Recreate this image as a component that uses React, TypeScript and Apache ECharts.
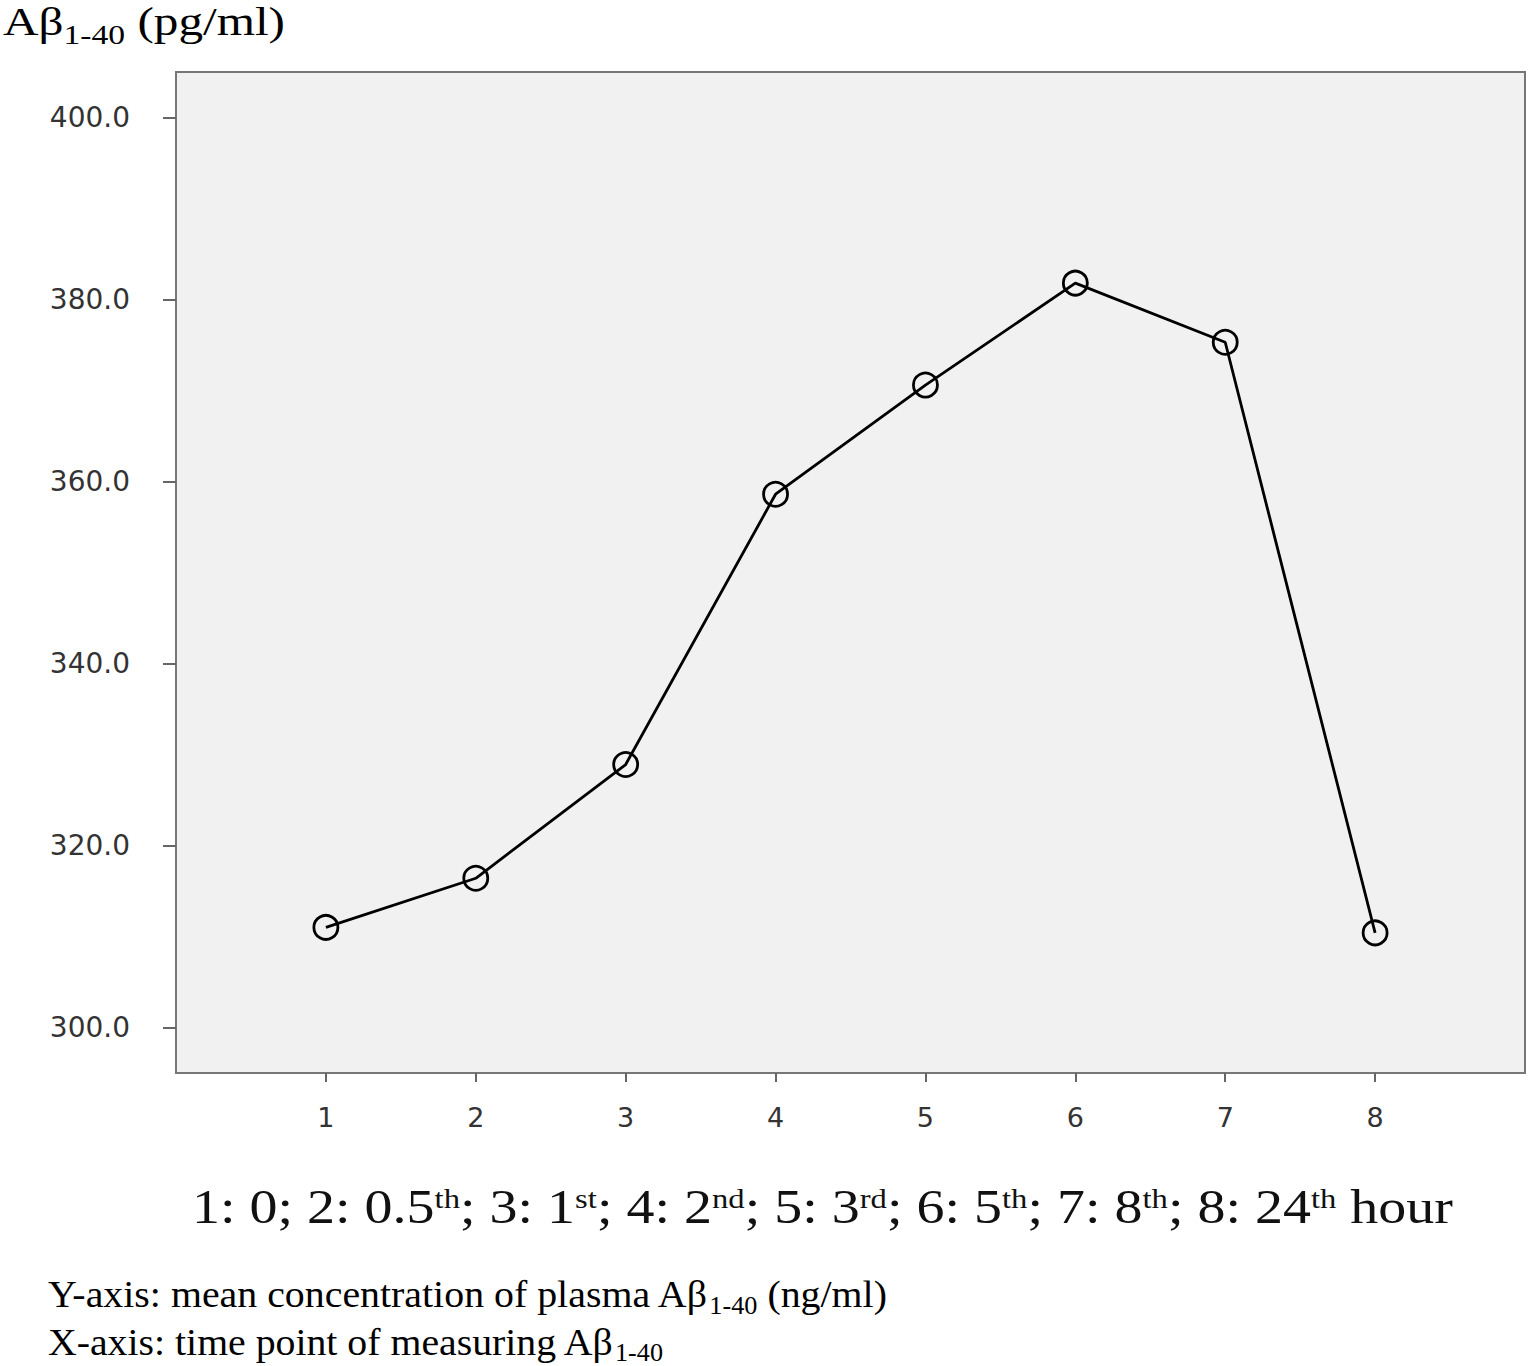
import React, { useEffect, useRef } from "react";
import * as echarts from "echarts";

const xTickLabels = ["1", "2", "3", "4", "5", "6", "7", "8"];
const xPositions = [1, 2, 3, 4, 5, 6, 7, 8];
const abetaMean = [311.0, 316.4, 328.9, 358.6, 370.6, 381.8, 375.3, 310.4];
const yTicks = [300, 320, 340, 360, 380, 400];

const SERIF_NAME = "Liberation Serif";
const SERIF = "'Liberation Serif', 'Times New Roman', serif";

type Seg = { t: string; size: number; dy: number };

let measureCtx: CanvasRenderingContext2D | null = null;
function measure(text: string, size: number): number {
  if (!measureCtx) {
    const c = document.createElement("canvas");
    measureCtx = c.getContext("2d");
  }
  if (!measureCtx) return text.length * size * 0.5;
  measureCtx.font = `${size}px '${SERIF_NAME}', serif`;
  return measureCtx.measureText(text).width;
}

// Lays out a line of text pieces (with sub/superscripts) between x0 and x1, at a given baseline.
function textLine(x0: number, x1: number, baseline: number, segs: Seg[], color: string) {
  const widths = segs.map((s) => measure(s.t, s.size));
  const total = widths.reduce((a, b) => a + b, 0);
  const sx = (x1 - x0) / total;
  let cx = x0;
  return segs.map((s, i) => {
    const el = {
      type: "text",
      x: cx,
      y: baseline + s.dy - 0.3375 * s.size,
      scaleX: sx,
      silent: true,
      style: {
        text: s.t,
        fontFamily: SERIF,
        fontSize: s.size,
        fill: color,
        align: "left",
        verticalAlign: "middle",
      },
    };
    cx += widths[i] * sx;
    return el;
  });
}

export default function App() {
  const ref = useRef<HTMLDivElement>(null);
  useEffect(() => {
    if (!ref.current) return;
    const chart = echarts.init(ref.current, null, { renderer: "svg" });
    const data = xPositions.map((x, i) => [x, abetaMean[i]]);

    const M = 48;
    const P = 28;
    const up = -15;
    const caption: Seg[] = [
      { t: "1: 0; 2: 0.5", size: M, dy: 0 },
      { t: "th", size: P, dy: up },
      { t: "; 3: 1", size: M, dy: 0 },
      { t: "st", size: P, dy: up },
      { t: "; 4: 2", size: M, dy: 0 },
      { t: "nd", size: P, dy: up },
      { t: "; 5: 3", size: M, dy: 0 },
      { t: "rd", size: P, dy: up },
      { t: "; 6: 5", size: M, dy: 0 },
      { t: "th", size: P, dy: up },
      { t: "; 7: 8", size: M, dy: 0 },
      { t: "th", size: P, dy: up },
      { t: "; 8: 24", size: M, dy: 0 },
      { t: "th", size: P, dy: up },
      { t: " hour", size: M, dy: 0 },
    ];

    const graphics = [
      ...textLine(3, 285, 35, [
        { t: "Aβ", size: 41, dy: 0 },
        { t: "1-40", size: 28, dy: 9 },
        { t: " (pg/ml)", size: 41, dy: 0 },
      ], "#000000"),
      ...textLine(192, 1453, 1223, caption, "#111111"),
      ...textLine(48, 887, 1307, [
        { t: "Y-axis: mean concentration of plasma Aβ", size: 38, dy: 0 },
        { t: "1-40", size: 25, dy: 7 },
        { t: " (ng/ml)", size: 38, dy: 0 },
      ], "#000000"),
      ...textLine(48, 663, 1355, [
        { t: "X-axis: time point of measuring Aβ", size: 38, dy: 0 },
        { t: "1-40", size: 25, dy: 6 },
      ], "#000000"),
    ];

    chart.setOption({
      animation: false,
      backgroundColor: "#ffffff",
      grid: {
        left: 176,
        top: 72,
        right: 5,
        bottom: 293,
        show: true,
        backgroundColor: "#f1f1f1",
        borderColor: "#777777",
        borderWidth: 2,
      },
      xAxis: {
        type: "value",
        min: 0,
        max: 9,
        splitLine: { show: false },
        axisLine: { show: true, lineStyle: { color: "#777777", width: 2 } },
        axisTick: {
          show: true,
          length: 9,
          lineStyle: { color: "#666666", width: 2 },
          customValues: xPositions,
        },
        axisLabel: {
          customValues: xPositions,
          formatter: (v: number) => xTickLabels[xPositions.indexOf(v)] ?? "",
          fontFamily: "'DejaVu Sans', sans-serif",
          fontSize: 27,
          color: "#333333",
          margin: 31,
        },
      },
      yAxis: {
        type: "value",
        min: 295,
        max: 405,
        splitLine: { show: false },
        axisLine: { show: true, lineStyle: { color: "#777777", width: 2 } },
        axisTick: {
          show: true,
          length: 13,
          lineStyle: { color: "#666666", width: 2 },
          customValues: yTicks,
        },
        axisLabel: {
          customValues: yTicks,
          formatter: (v: number) => v.toFixed(1),
          fontFamily: "'DejaVu Sans', sans-serif",
          fontSize: 28,
          color: "#333333",
          margin: 46,
        },
      },
      series: [
        {
          type: "line",
          data,
          symbol: "circle",
          symbolSize: 24,
          lineStyle: { color: "#000000", width: 2.8 },
          itemStyle: {
            color: "rgba(0,0,0,0)",
            borderColor: "#000000",
            borderWidth: 2.8,
          },
          z: 3,
        },
      ],
      graphic: graphics,
    });
    return () => chart.dispose();
  }, []);
  return (
    <div
      ref={ref}
      style={{ position: "absolute", left: 0, top: 0, width: 1530, height: 1366 }}
    />
  );
}
